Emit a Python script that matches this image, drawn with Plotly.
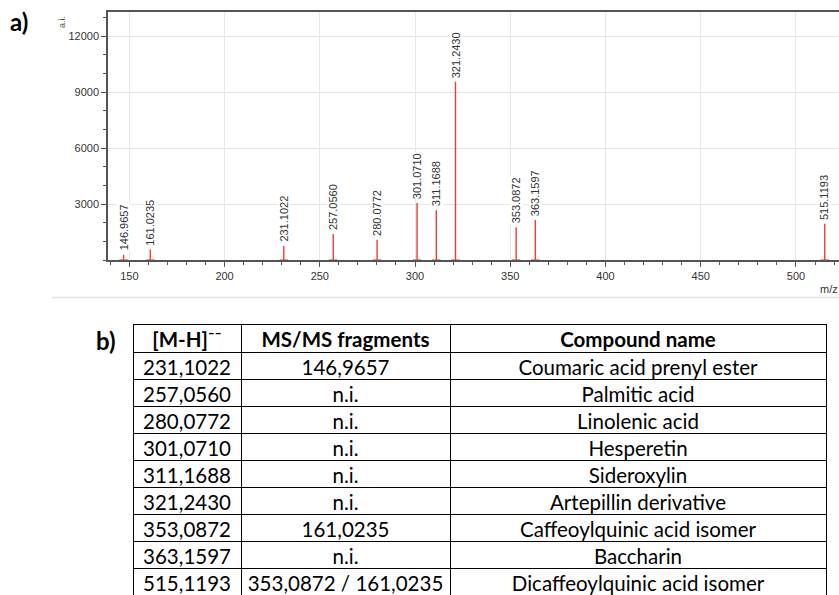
import plotly.graph_objects as go

# ---------------- data ----------------
peak_mz = [146.9657, 161.0235, 231.1022, 257.0560, 280.0772, 301.0710,
           311.1688, 321.2430, 353.0872, 363.1597, 515.1193]
peak_intensity = [280, 570, 760, 1400, 1080, 3050, 2660, 9550, 1760, 2150, 1940]

y_tick_values = [3000, 6000, 9000, 12000]

table_mh = ["231,1022", "257,0560", "280,0772", "301,0710", "311,1688",
            "321,2430", "353,0872", "363,1597", "515,1193"]
table_fragments = ["146,9657", "n.i.", "n.i.", "n.i.", "n.i.", "n.i.",
                   "161,0235", "n.i.", "353,0872\u00a0/\u00a0161,0235"]
table_compounds = ["Coumaric acid prenyl ester", "Palmitic acid", "Linolenic acid",
                   "Hesperetin", "Sideroxylin", "Artepillin derivative",
                   "Caffeoylquinic acid isomer", "Baccharin",
                   "Dicaffeoylquinic acid isomer"]
table_headers = ["[M-H]\u207b\u207b", "MS/MS fragments", "Compound name"]

# ---------------- styling ----------------
W, H = 839, 595
RED = "#ef3b3b"
AXIS = "#555555"
TICKFONT = dict(family="Liberation Sans, Arial", size=11, color="#333333")
TABLEFONT = "Lato, Carlito, Calibri, sans-serif"


def px_x(p):
    return p / W


def px_y(p):
    return 1 - p / H


fig = go.Figure()

# stick spectrum
stick_x, stick_y = [], []
for m, v in zip(peak_mz, peak_intensity):
    stick_x += [m, m, None]
    stick_y += [0, v, None]
fig.add_trace(go.Scatter(x=stick_x, y=stick_y, mode="lines",
                         line=dict(color=RED, width=1.4), hoverinfo="skip",
                         showlegend=False))
fig.add_trace(go.Scatter(x=peak_mz, y=[0] * len(peak_mz), mode="markers",
                         marker=dict(symbol="line-ew-open", size=6,
                                     line=dict(color=RED, width=1.3)),
                         cliponaxis=False, showlegend=False, hoverinfo="skip"))

for m, v in zip(peak_mz, peak_intensity):
    fig.add_annotation(x=m, y=v, xref="x", yref="y", text=f"{m:.4f}",
                       textangle=-90, showarrow=False, xanchor="center",
                       yanchor="bottom", yshift=3, bgcolor="white",
                       borderpad=0,
                       font=dict(family="Liberation Sans, Arial", size=11,
                                 color="#333333"))

# table
fig.add_trace(go.Table(
    domain=dict(x=[px_x(133), px_x(826)], y=[0, px_y(324)]),
    columnwidth=[108, 209, 376],
    header=dict(values=table_headers, height=28, align="center",
                font=dict(family=TABLEFONT, size=20.5, color="black",
                          weight="bold"),
                line=dict(color="black", width=1), fill_color="white"),
    cells=dict(values=[table_mh, table_fragments, table_compounds], height=27,
               align="center",
               font=dict(family=TABLEFONT, size=20.5, color="black"),
               line=dict(color="black", width=1), fill_color="white"),
))

fig.update_layout(
    width=W, height=H,
    margin=dict(l=0, r=0, t=0, b=0),
    paper_bgcolor="white", plot_bgcolor="white",
    showlegend=False,
    xaxis=dict(domain=[px_x(108), 1], range=[138.8, 522.6],
               tickmode="linear", tick0=0, dtick=50,
               ticks="outside", ticklen=5, tickwidth=1, tickcolor=AXIS,
               showline=True, linecolor=AXIS, linewidth=1.5, mirror=True,
               showgrid=True, gridcolor="#e6e6e6", gridwidth=1,
               zeroline=False, tickfont=TICKFONT,
               minor=dict(tickmode="linear", tick0=0, dtick=10, ticks="outside",
                          ticklen=3, tickcolor=AXIS, showgrid=False)),
    yaxis=dict(domain=[px_y(260), px_y(12)], range=[0, 13290],
               tickmode="array", tickvals=y_tick_values, tickformat="d",
               ticks="outside", ticklen=5, tickwidth=1, tickcolor=AXIS,
               showline=True, linecolor=AXIS, linewidth=1.5,
               showgrid=True, gridcolor="#e6e6e6", gridwidth=1,
               zeroline=False, tickfont=TICKFONT,
               minor=dict(tickmode="linear", tick0=0, dtick=1000, ticks="outside",
                          ticklen=3, tickcolor=AXIS, showgrid=False)),
)

# decorations
fig.add_annotation(xref="paper", yref="paper", x=px_x(8), y=px_y(22),
                   xanchor="left", yanchor="middle", showarrow=False,
                   text="<b>a)</b>", font=dict(family=TABLEFONT, size=24, color="black"))
fig.add_annotation(xref="paper", yref="paper", x=px_x(94), y=px_y(340),
                   xanchor="left", yanchor="middle", showarrow=False,
                   text="<b>b)</b>", font=dict(family=TABLEFONT, size=24, color="black"))
fig.add_annotation(xref="paper", yref="paper", x=px_x(829), y=px_y(289),
                   xanchor="center", yanchor="middle", showarrow=False,
                   text="m/z", font=dict(family="Liberation Sans, Arial", size=11,
                                         color="#333333"))
fig.add_annotation(xref="paper", yref="paper", x=px_x(62), y=px_y(22),
                   xanchor="center", yanchor="middle", showarrow=False,
                   textangle=-90, text="a.i.",
                   font=dict(family="Liberation Sans, Arial", size=9, color="#555555"))
fig.add_shape(type="line", xref="paper", yref="paper",
              x0=px_x(52), x1=1, y0=px_y(297.5), y1=px_y(297.5),
              line=dict(color="#e3e3e3", width=1.5))

fig.write_html("out.html",
               config={"displayModeBar": False},
               post_script="document.body.style.margin='0';"
                           "document.body.style.overflow='hidden';")
